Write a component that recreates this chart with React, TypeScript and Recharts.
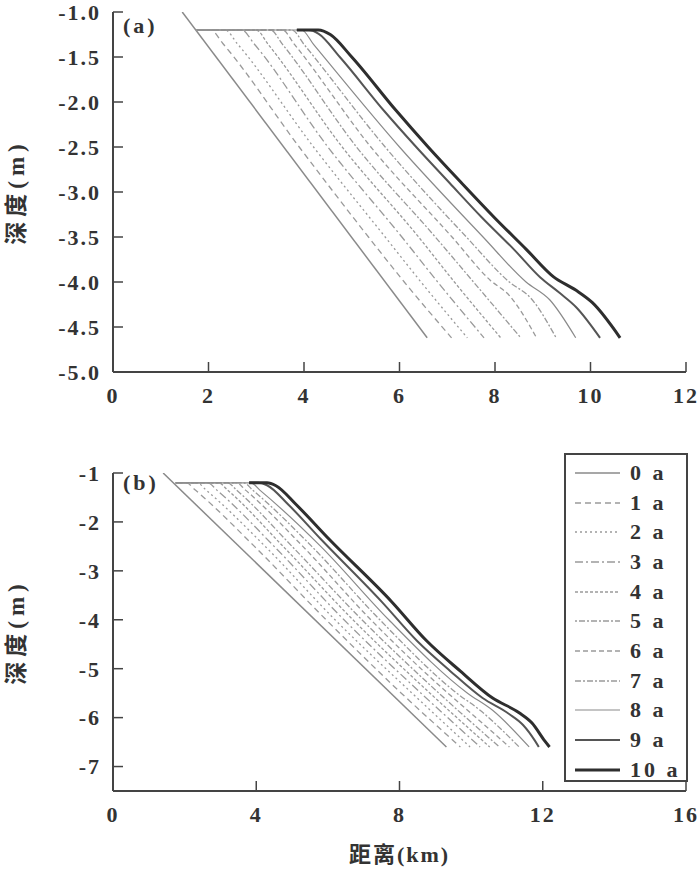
import { Line, LineChart, XAxis, YAxis } from "recharts"

const years = ["0 a", "1 a", "2 a", "3 a", "4 a", "5 a", "6 a", "7 a", "8 a", "9 a", "10 a"]

// (a) 剖面，[距离 km, 深度 m]
const profileA0: [number, number][] = [[1.45, -1.0], [6.58, -4.62]]
const profileA1: [number, number][] = [[1.75, -1.2], [2.05, -1.2], [2.3, -1.35], [3.9, -2.5], [5.35, -3.5], [6.1, -4.0], [7.09, -4.62]]
const profileA2: [number, number][] = [[1.75, -1.2], [2.35, -1.2], [2.6, -1.35], [4.2, -2.5], [5.7, -3.5], [6.45, -4.0], [7.42, -4.62]]
const profileA3: [number, number][] = [[1.75, -1.2], [2.7, -1.2], [2.95, -1.35], [4.5, -2.5], [6.05, -3.5], [6.8, -4.0], [7.77, -4.62]]
const profileA4: [number, number][] = [[1.75, -1.2], [3.0, -1.2], [3.25, -1.36], [4.8, -2.5], [6.4, -3.5], [7.15, -4.0], [8.12, -4.62]]
const profileA5: [number, number][] = [[1.75, -1.2], [3.3, -1.2], [3.55, -1.36], [5.1, -2.5], [6.75, -3.5], [7.55, -4.0], [8.54, -4.62]]
const profileA6: [number, number][] = [[1.75, -1.2], [3.55, -1.2], [3.8, -1.36], [5.4, -2.5], [7.1, -3.5], [7.9, -3.98], [8.3, -4.15], [8.87, -4.62]]
const profileA7: [number, number][] = [[1.75, -1.2], [3.75, -1.2], [4.0, -1.36], [5.7, -2.5], [7.4, -3.5], [8.3, -4.0], [8.75, -4.18], [9.28, -4.62]]
const profileA8: [number, number][] = [[1.75, -1.2], [3.95, -1.2], [4.2, -1.36], [6.0, -2.5], [7.75, -3.5], [8.65, -4.0], [9.15, -4.2], [9.69, -4.62]]
const profileA9: [number, number][] = [[3.85, -1.2], [4.1, -1.2], [4.3, -1.24], [4.75, -1.5], [5.68, -2.1], [6.35, -2.5], [7.05, -2.9], [7.72, -3.28], [8.4, -3.64], [8.95, -3.95], [9.35, -4.12], [9.7, -4.28], [10.2, -4.62]]
const profileA10: [number, number][] = [[3.85, -1.2], [4.3, -1.2], [4.55, -1.25], [5.0, -1.5], [5.92, -2.09], [6.6, -2.5], [7.3, -2.9], [7.98, -3.28], [8.66, -3.64], [9.22, -3.94], [9.69, -4.09], [10.04, -4.23], [10.62, -4.62]]

// (b) 剖面
const profileB0: [number, number][] = [[1.4, -1.0], [9.31, -6.6]]
const profileB1: [number, number][] = [[1.75, -1.2], [2.05, -1.2], [2.3, -1.35], [3.95, -2.5], [5.95, -4.0], [8.05, -5.5], [9.7, -6.6]]
const profileB2: [number, number][] = [[1.75, -1.2], [2.35, -1.2], [2.6, -1.35], [4.25, -2.5], [6.2, -4.0], [8.35, -5.5], [9.97, -6.6]]
const profileB3: [number, number][] = [[1.75, -1.2], [2.65, -1.2], [2.9, -1.35], [4.5, -2.5], [6.45, -4.0], [8.6, -5.5], [10.25, -6.6]]
const profileB4: [number, number][] = [[1.75, -1.2], [2.95, -1.2], [3.2, -1.35], [4.75, -2.5], [6.7, -4.0], [8.85, -5.5], [10.52, -6.6]]
const profileB5: [number, number][] = [[1.75, -1.2], [3.2, -1.2], [3.45, -1.35], [5.0, -2.5], [6.95, -4.0], [9.1, -5.5], [10.79, -6.6]]
const profileB6: [number, number][] = [[1.75, -1.2], [3.45, -1.2], [3.7, -1.35], [5.3, -2.5], [7.2, -4.0], [9.35, -5.5], [9.9, -5.85], [11.07, -6.6]]
const profileB7: [number, number][] = [[1.75, -1.2], [3.65, -1.2], [3.9, -1.35], [5.55, -2.5], [7.45, -4.0], [9.6, -5.5], [10.25, -5.85], [11.34, -6.6]]
const profileB8: [number, number][] = [[1.75, -1.2], [3.85, -1.2], [4.1, -1.35], [5.8, -2.5], [7.7, -4.0], [9.9, -5.5], [10.6, -5.85], [11.62, -6.6]]
const profileB9: [number, number][] = [[3.8, -1.2], [4.05, -1.2], [4.3, -1.25], [4.9, -1.65], [5.8, -2.35], [7.5, -3.63], [8.5, -4.44], [9.42, -5.05], [10.32, -5.6], [11.05, -5.92], [11.45, -6.15], [11.78, -6.47], [11.89, -6.6]]
const profileB10: [number, number][] = [[3.8, -1.2], [4.3, -1.2], [4.55, -1.26], [5.12, -1.65], [6.03, -2.35], [7.78, -3.63], [8.77, -4.44], [9.7, -5.05], [10.6, -5.6], [11.34, -5.9], [11.7, -6.11], [12.05, -6.47], [12.19, -6.6]]

const profilesA = [profileA0, profileA1, profileA2, profileA3, profileA4, profileA5, profileA6, profileA7, profileA8, profileA9, profileA10]
const profilesB = [profileB0, profileB1, profileB2, profileB3, profileB4, profileB5, profileB6, profileB7, profileB8, profileB9, profileB10]

const xTicksA = [0, 2, 4, 6, 8, 10, 12]
const yTicksA = [-5, -4.5, -4, -3.5, -3, -2.5, -2, -1.5, -1]
const xTicksB = [0, 4, 8, 12, 16]
const yTicksB = [-7, -6, -5, -4, -3, -2, -1]

const lineStyles = [
  { stroke: "#8a8a8a", width: 1.5, dash: undefined },
  { stroke: "#9a9a9a", width: 1.3, dash: "6 4" },
  { stroke: "#9a9a9a", width: 1.3, dash: "2 3" },
  { stroke: "#9a9a9a", width: 1.3, dash: "8 3 2 3" },
  { stroke: "#9a9a9a", width: 1.3, dash: "3 2" },
  { stroke: "#9a9a9a", width: 1.3, dash: "2 2 6 2" },
  { stroke: "#9a9a9a", width: 1.3, dash: "5 3" },
  { stroke: "#9a9a9a", width: 1.3, dash: "6 2 2 2" },
  { stroke: "#8a8a8a", width: 1.2, dash: undefined },
  { stroke: "#555", width: 2, dash: undefined },
  { stroke: "#2e2e2e", width: 3, dash: undefined },
]

const serif = "'Liberation Serif', 'Noto Sans CJK SC', serif"
const tickStyle = { fontSize: 22, fontFamily: serif, fontWeight: "bold", fill: "#333", letterSpacing: 2 }
const axisLine = { stroke: "#444", strokeWidth: 2 }
const tickLine = { stroke: "#444", strokeWidth: 1.5 }
const xTitleStyle = { fontSize: 22, fontFamily: serif, fontWeight: "bold", fill: "#333", letterSpacing: 2, textAnchor: "middle" as const }
const yTitleStyle = { fontSize: 23, fontFamily: serif, fontWeight: "bold", fill: "#333", letterSpacing: 5, textAnchor: "middle" as const }

const toPoints = (p: [number, number][]) => p.map(([x, y]) => ({ x, y }))

function ProfileLegend() {
  return (
    <div
      style={{
        position: "absolute", left: 564, top: 35, width: 124, height: 329,
        border: "2px solid #444", boxSizing: "border-box", paddingTop: 3, background: "#fff",
      }}
    >
      {years.map((name, i) => (
        <div key={name} style={{ display: "flex", alignItems: "center", height: 29.7 }}>
          <svg width={45} height={10} style={{ marginLeft: 9 }}>
            <line x1={0} y1={5} x2={45} y2={5} stroke={lineStyles[i].stroke}
              strokeWidth={lineStyles[i].width} strokeDasharray={lineStyles[i].dash} />
          </svg>
          <span style={{ marginLeft: 10, fontFamily: serif, fontWeight: "bold", fontSize: 22, color: "#333", letterSpacing: 3, lineHeight: "22px" }}>
            {name}
          </span>
        </div>
      ))}
    </div>
  )
}

type ChartProps = {
  profiles: [number, number][][]
  xTicks: number[]
  yTicks: number[]
  xMax: number
  yDomain: [number, number]
  height: number
  margin: { top: number; right: number; bottom: number; left: number }
  xAxisHeight: number
  tag: string
  tagTop: number
  xLabel?: string
  yFmt?: (v: number) => string
  legend?: boolean
}

function ProfileChart(props: ChartProps) {
  const { profiles, xTicks, yTicks, xMax, yDomain, height, margin, xAxisHeight, tag, tagTop, xLabel, yFmt, legend } = props
  return (
    <div style={{ position: "relative", width: 700, height }}>
      <LineChart width={700} height={height} margin={margin}>
        <XAxis
          type="number" dataKey="x" domain={[0, xMax]} ticks={xTicks} interval={0}
          height={xAxisHeight} axisLine={axisLine} tickLine={tickLine}
          tickSize={-10} tickMargin={25} tick={tickStyle}
          label={xLabel ? { value: xLabel, position: "insideBottom", offset: 4, style: xTitleStyle } : undefined}
        />
        <YAxis
          type="number" domain={yDomain} ticks={yTicks} interval={0} allowDataOverflow
          width={113} axisLine={axisLine} tickLine={tickLine}
          tickSize={-10} tickMargin={22} tick={tickStyle} tickFormatter={yFmt}
          label={{ value: "深度(m)", angle: -90, position: "insideLeft", offset: 16, style: yTitleStyle }}
        />
        {profiles.map((p, i) => (
          <Line
            key={years[i]} name={years[i]} data={toPoints(p)} dataKey="y" type="monotone"
            dot={false} activeDot={false} stroke={lineStyles[i].stroke}
            strokeWidth={lineStyles[i].width} strokeDasharray={lineStyles[i].dash}
            isAnimationActive={false}
          />
        ))}
      </LineChart>
      <div style={{ position: "absolute", left: 123, top: tagTop, fontFamily: serif, fontWeight: "bold", fontSize: 22, color: "#333", letterSpacing: 3, lineHeight: "22px" }}>
        {tag}
      </div>
      {legend && <ProfileLegend />}
    </div>
  )
}

export default function App() {
  return (
    <div style={{ width: 700, height: 874, overflow: "hidden" }}>
      <style>{"html, body { margin: 0; padding: 0; overflow: hidden; }"}</style>
      <ProfileChart
        profiles={profilesA} xTicks={xTicksA} yTicks={yTicksA} xMax={12} yDomain={[-5, -1]}
        height={418} margin={{ top: 12, right: 14, bottom: 16, left: 0 }} xAxisHeight={30}
        tag="(a)" tagTop={15} yFmt={(v) => v.toFixed(1)}
      />
      <ProfileChart
        profiles={profilesB} xTicks={xTicksB} yTicks={yTicksB} xMax={16} yDomain={[-7.5, -1]}
        height={456} margin={{ top: 55, right: 14, bottom: 8, left: 0 }} xAxisHeight={75}
        tag="(b)" tagTop={54} xLabel="距离(km)" legend
      />
    </div>
  )
}
